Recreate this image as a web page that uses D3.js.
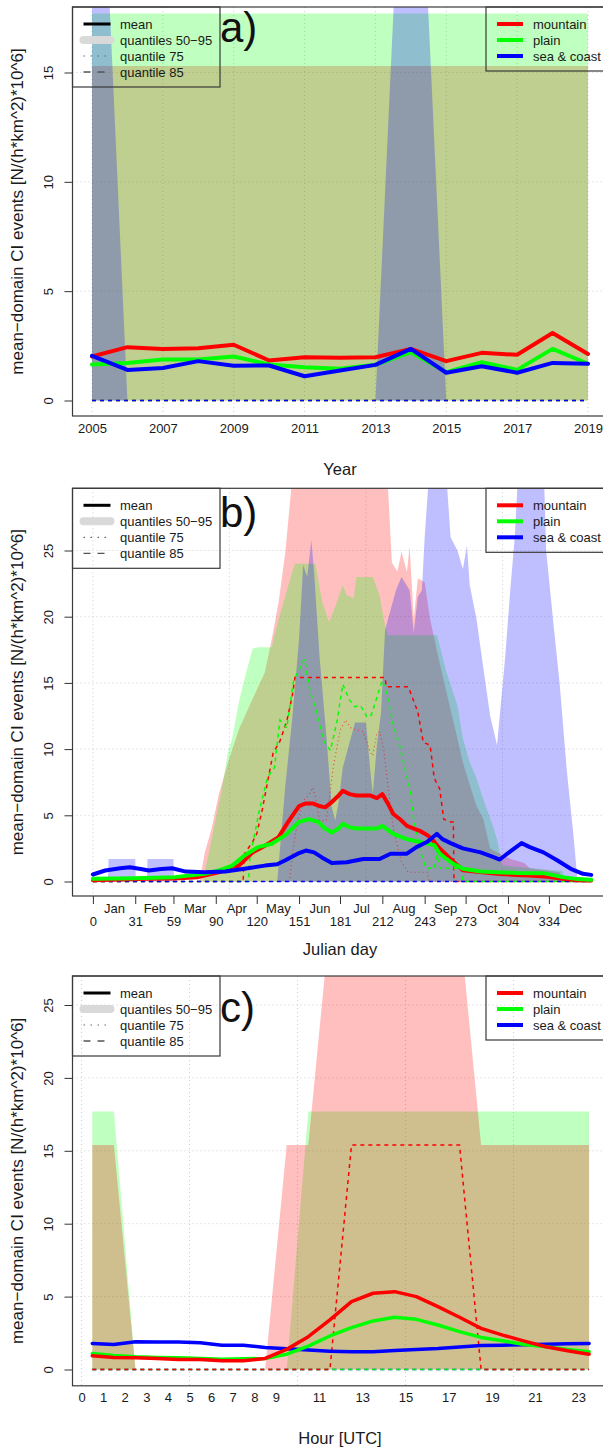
<!DOCTYPE html>
<html>
<head>
<meta charset="utf-8">
<script src="https://cdn.jsdelivr.net/npm/d3@7"></script>
<style>
  body { margin: 0; background: #fff; }
  svg text { font-family: "Liberation Sans", Arial, Helvetica, sans-serif; }
</style>
</head>
<body>
<svg id="fig" width="603" height="1449"></svg>
<script>
// ---------- panel a) : yearly ----------
const years = [2005, 2006, 2007, 2008, 2009, 2010, 2011, 2012, 2013, 2014, 2015, 2016, 2017, 2018, 2019];
const yearMeanMountain = [2.01, 2.44, 2.36, 2.39, 2.55, 1.83, 1.98, 1.95, 1.98, 2.36, 1.80, 2.18, 2.09, 3.09, 2.13];
const yearMeanPlain    = [1.65, 1.71, 1.88, 1.88, 2.01, 1.65, 1.52, 1.45, 1.63, 2.21, 1.30, 1.75, 1.40, 2.36, 1.68];
const yearMeanSea      = [2.04, 1.40, 1.49, 1.80, 1.59, 1.60, 1.11, 1.37, 1.63, 2.36, 1.27, 1.57, 1.27, 1.72, 1.68];
const yearQ95Mountain  = [15.3, 15.3, 15.3, 15.3, 15.3, 15.3, 15.3, 15.3, 15.3, 15.3, 15.3, 15.3, 15.3, 15.3, 15.3];
const yearQ95Plain     = [17.7, 17.7, 17.7, 17.7, 17.7, 17.7, 17.7, 17.7, 17.7, 17.7, 17.7, 17.7, 17.7, 17.7, 17.7];
const yearQ95Sea       = [36, 0, 0, 0, 0, 0, 0, 0, 0, 35, 0, 0, 0, 0, 0];
// quantile 75 / 85 are zero for every region and year
const yearQZero        = [0, 0, 0, 0, 0, 0, 0, 0, 0, 0, 0, 0, 0, 0, 0];

// ---------- panel b) : julian day, [day, value] ----------
const monthStarts = [0, 31, 59, 90, 120, 151, 181, 212, 243, 273, 304, 334];
const monthNames  = ["Jan", "Feb", "Mar", "Apr", "May", "Jun", "Jul", "Aug", "Sep", "Oct", "Nov", "Dec"];

const dayMeanMountain = [[0,0.1],[20,0.15],[40,0.2],[60,0.22],[77,0.33],[92,0.7],[107,1.2],[117,2.2],[126,2.7],
  [136,3.35],[143,4.5],[151,5.7],[156,5.9],[161,5.9],[166,5.7],[170,5.6],[175,6.0],[180,6.5],[183,6.85],[188,6.6],
  [193,6.5],[203,6.5],[208,6.3],[212,6.6],[216,5.9],[220,5.1],[225,4.7],[230,4.2],[235,4.0],[240,3.8],[245,3.5],
  [250,3.0],[254,2.5],[259,2.0],[264,1.5],[271,0.85],[280,0.75],[296,0.58],[310,0.5],[320,0.45],[333,0.35],
  [344,0.2],[355,0.1],[365,0.08]];
const dayMeanPlain = [[0,0.2],[30,0.25],[60,0.33],[82,0.58],[92,0.83],[102,1.2],[111,1.96],[121,2.6],[131,2.85],
  [141,3.5],[151,4.5],[158,4.7],[165,4.5],[170,4.0],[175,3.7],[180,4.0],[183,4.36],[188,4.1],[193,4.0],[203,4.0],
  [208,4.0],[212,4.2],[220,3.6],[230,3.2],[240,2.97],[250,2.75],[254,2.1],[259,1.7],[264,1.33],[271,0.96],
  [284,0.76],[296,0.7],[311,0.65],[330,0.63],[344,0.33],[355,0.18],[365,0.13]];
const dayMeanSea = [[0,0.53],[9,0.83],[20,1.0],[27,1.08],[35,0.95],[41,0.83],[50,0.95],[58,1.0],[68,0.75],
  [82,0.7],[97,0.76],[111,0.96],[126,1.2],[135,1.3],[141,1.6],[150,2.1],[156,2.34],[162,2.2],[168,1.8],[175,1.4],
  [186,1.45],[198,1.7],[210,1.7],[218,2.1],[230,2.1],[237,2.6],[245,3.0],[252,3.6],[256,3.2],[262,2.9],[271,2.5],
  [284,2.2],[292,1.9],[298,1.66],[306,2.3],[314,2.9],[320,2.6],[330,2.2],[340,1.6],[350,0.96],[359,0.58],[365,0.5]];

const dayQ95Mountain = [[0,0],[78,0],[79,0.5],[82,2.2],[87,4.0],[92,6.5],[99,9.0],[107,11.5],[117,13.8],[126,15.8],
  [131,18.3],[136,21.1],[141,24.9],[146,30.5],[150,33],[214,33],[216,30],[219,24.1],[223,23.4],[226,24.9],
  [230,23.4],[232,25.3],[235,19.8],[238,22.9],[243,22.6],[247,19.8],[252,17.4],[259,14.3],[267,10.8],[271,9.0],
  [276,7.3],[281,5.7],[286,4.7],[291,2.5],[296,2.2],[306,1.7],[316,1.4],[320,1.0],[342,0.7],[344,0],[365,0]];
const dayQ95Plain = [[0,0],[80,0],[81,0.3],[85,2.2],[90,4.7],[95,7.3],[99,9.8],[102,10.8],[107,13.6],[111,15.3],
  [117,17.6],[121,17.7],[131,17.7],[133,18.6],[136,19.8],[141,21.6],[146,23.4],[148,24.0],[163,24.0],[168,21.1],
  [173,19.6],[178,20.9],[183,22.4],[186,21.6],[191,21.4],[193,23.0],[205,23.0],[210,21.6],[214,19.3],[216,18.6],
  [252,18.6],[254,17.8],[259,15.8],[267,13.3],[271,10.8],[276,9.0],[281,7.8],[286,6.2],[293,4.2],[296,3.2],
  [298,2.2],[300,1.2],[344,0.8],[346,0],[365,0]];
const dayQ95Sea = [[0,0],[11,0],[11.5,1.7],[31,1.7],[31.5,0],[39.5,0],[40,1.7],[59,1.7],[59.5,0],[135,0],[141,7.3],
  [146,12.3],[151,18.3],[154,23.9],[157,23],[160,25.8],[162,23.4],[166,17],[171,11],[175,5.6],[177.5,4.6],[180,6],
  [183,8.6],[188,10.5],[192,12],[200,12],[203,8.6],[205,6.6],[208,10.3],[211,12.7],[214,19.0],[218,20.5],[222,22],
  [226,23],[229,22.5],[232,22],[235,18.8],[238,21.5],[241,22],[243,26],[247,32],[258,32],[262,26],[267,25],
  [271,23.6],[274,25.4],[276,22.4],[281,19.8],[286,16.1],[291,12.5],[296,10.3],[302,17],[306,22.4],[309,26],
  [312,32],[330,32],[332,25],[337,19.8],[342,14.8],[347,8.5],[352,3.5],[355,0],[365,0]];

const dayQ85Mountain = [[0,0],[110,0],[111,2.1],[117,3.0],[120,3.6],[124,5.4],[132,9.7],[137,10.6],[142,12.1],
  [146,14],[148,15.4],[214,15.4],[215,14.7],[231,14.7],[238,12.8],[242,10.5],[247,10.3],[250,7.8],[254,7.0],
  [257,4.7],[262,4.5],[264,4.5],[264.5,0],[365,0]];
const dayQ75Mountain = [[0,0],[144,0],[146,2],[150,4.6],[154,6.1],[158,6.5],[161,7.1],[164,6],[166,4.6],[171,4.6],
  [176,8.6],[181,11.4],[185,12.2],[189,11.6],[198,11.3],[203,9.8],[205,9.5],[208,11.2],[210,11.3],[213,10],
  [216,7.3],[220,4],[223,2.7],[226,1.5],[231,0.7],[245,0.7],[246,0],[365,0]];
const dayQ85Plain = [[0,0],[114,0],[115,1.8],[122,5.4],[128,7.9],[133,8.6],[137,12.2],[142,11.6],[147,15.2],
  [152,16.2],[155,16.8],[159,14.4],[164,12.7],[169,10.6],[174,9.9],[179,12.2],[183,14.9],[188,13.7],[192,13.2],
  [196,13.3],[201,12.4],[204,12.6],[208,13.9],[212,15.2],[215,14.2],[220,11.9],[225,10.1],[232,7.1],[235,4.7],
  [240,2.2],[244,1.0],[250,1.0],[252,2.0],[254,1.0],[270,1.0],[271,0],[365,0]];
const dayQZero = [[0,0],[365,0]];

// ---------- panel c) : hour of day ----------
const hours = [0.5,1.5,2.5,3.5,4.5,5.5,6.5,7.5,8.5,9.5,10.5,11.5,12.5,13.5,14.5,15.5,16.5,17.5,18.5,19.5,20.5,21.5,22.5,23.5];
const hourTicks = [0,1,2,3,4,5,6,7,8,9,11,13,15,17,19,21,23];
const hourMeanMountain = [0.94,0.83,0.8,0.76,0.69,0.69,0.6,0.6,0.76,1.38,2.25,3.4,4.66,5.23,5.34,5.0,4.31,3.58,2.82,2.36,1.95,1.56,1.28,1.05];
const hourMeanPlain    = [1.1,0.96,0.87,0.83,0.8,0.76,0.71,0.73,0.76,1.05,1.6,2.3,2.87,3.33,3.58,3.44,3.05,2.6,2.2,1.97,1.72,1.56,1.38,1.22];
const hourMeanSea      = [1.79,1.72,1.9,1.88,1.88,1.83,1.67,1.67,1.51,1.42,1.33,1.26,1.22,1.22,1.31,1.38,1.44,1.54,1.65,1.67,1.7,1.74,1.77,1.79];
const hourQ95Mountain  = [15.4,15.4,0,0,0,0,0,0,0,15.4,15.4,30.7,30.7,30.7,30.7,30.7,30.7,30.7,15.4,15.4,15.4,15.4,15.4,15.4];
const hourQ95Plain     = [17.7,17.7,0,0,0,0,0,0,0,0,17.7,17.7,17.7,17.7,17.7,17.7,17.7,17.7,17.7,17.7,17.7,17.7,17.7,17.7];
const hourQ95Sea       = [0,0,0,0,0,0,0,0,0,0,0,0,0,0,0,0,0,0,0,0,0,0,0,0];
const hourQ85Mountain  = [0,0,0,0,0,0,0,0,0,0,0,0,15.4,15.4,15.4,15.4,15.4,15.4,0,0,0,0,0,0];
const hourQZero        = [0,0,0,0,0,0,0,0,0,0,0,0,0,0,0,0,0,0,0,0,0,0,0,0];

const regionNames = ["mountain", "plain", "sea & coast"];
const yTitle = "mean\u2212domain CI events [N/(h*km^2)*10^6]";

// ---------- drawing ----------
const W = 603;
const boxLeft = 72.5;
const colors = {mountain: "#ff0000", plain: "#00ff00", sea: "#0000ff"};
const svg = d3.select("#fig");
const defs = svg.append("defs");

function drawPanel(p) {
  const {x, y, top, bottom} = p;
  const g = svg.append("g");

  defs.append("clipPath").attr("id", "clip-" + p.id)
    .append("rect").attr("x", boxLeft).attr("y", top).attr("width", 560).attr("height", bottom - top);

  // dotted grid
  const grid = g.append("g").attr("stroke", "#cdcdcd").attr("stroke-width", 1).attr("stroke-dasharray", "1,3");
  grid.selectAll(".gy").data(p.yTicks.filter(v => v > 0)).join("line").attr("class", "gy")
    .attr("x1", boxLeft).attr("x2", W).attr("y1", d => y(d)).attr("y2", d => y(d));
  grid.selectAll(".gx").data(p.gridX).join("line").attr("class", "gx")
    .attr("x1", d => x(d)).attr("x2", d => x(d)).attr("y1", top).attr("y2", bottom);

  const plot = g.append("g").attr("clip-path", `url(#clip-${p.id})`);

  // quantile 50-95 bands (q50 is zero)
  const area = d3.area().x(d => x(d[0])).y0(y(0)).y1(d => y(d[1]));
  p.order.forEach(r => {
    plot.append("path").datum(p.q95[r]).attr("d", area)
      .attr("fill", colors[r]).attr("fill-opacity", 0.25);
  });

  // quantile 75 (dotted; all-zero series are hidden under the dashed zero line) and 85 (dashed)
  const line = d3.line().x(d => x(d[0])).y(d => y(d[1]));
  p.order.filter(r => d3.max(p.q75[r], d => d[1]) > 0).forEach(r => {
    plot.append("path").datum(p.q75[r]).attr("d", line).attr("fill", "none")
      .attr("stroke", colors[r]).attr("stroke-width", 1.2).attr("stroke-dasharray", "1,3")
      .attr("stroke-opacity", 0.6);
  });
  p.order.forEach(r => {
    plot.append("path").datum(p.q85[r]).attr("d", line).attr("fill", "none")
      .attr("stroke", colors[r]).attr("stroke-width", 1.5).attr("stroke-dasharray", "4,4");
  });
  p.lineOrder.forEach(r => {
    plot.append("path").datum(p.mean[r]).attr("d", line).attr("fill", "none")
      .attr("stroke", colors[r]).attr("stroke-width", p.meanWidth)
      .attr("stroke-linejoin", "round").attr("stroke-linecap", "round");
  });

  // y axis with rotated labels
  const ya = g.append("g").attr("transform", `translate(${boxLeft},0)`)
    .call(d3.axisLeft(y).tickValues(p.yTicks).tickSize(8).tickFormat(d3.format("d")));
  ya.select(".domain").remove();
  ya.attr("font-size", 13).attr("font-family", null);
  ya.selectAll("line").attr("stroke", "#333");
  ya.selectAll("text").attr("transform", "rotate(-90)").attr("x", 0).attr("y", -19.5)
    .attr("dy", null).attr("text-anchor", "middle").attr("fill", "#1a1a1a");

  // x axis
  p.xAxes.forEach(ax => {
    const xa = g.append("g").attr("transform", `translate(0,${bottom})`)
      .call(d3.axisBottom(x).tickValues(ax.values).tickSize(ax.size).tickPadding(ax.pad)
        .tickFormat((d, i) => ax.labels ? ax.labels[i] : d));
    xa.select(".domain").remove();
    xa.attr("font-size", 13).attr("font-family", null);
    xa.selectAll("line").attr("stroke", "#333");
    xa.selectAll("text").attr("fill", "#1a1a1a");
  });

  // box
  g.append("rect").attr("x", boxLeft).attr("y", top).attr("width", 560).attr("height", bottom - top)
    .attr("fill", "none").attr("stroke", "#3a3a3a").attr("stroke-width", 1.2);

  // titles
  g.append("text").attr("x", 340).attr("y", p.xTitleY).attr("text-anchor", "middle")
    .attr("font-size", 16.5).attr("fill", "#1a1a1a").text(p.xTitle);
  g.append("text").attr("transform", `translate(23,${(top + bottom) / 2}) rotate(-90)`)
    .attr("text-anchor", "middle").attr("font-size", 17).attr("fill", "#1a1a1a").text(yTitle);

  // panel letter
  g.append("text").attr("x", 220).attr("y", p.letterY).attr("font-size", 42).attr("fill", "#111").text(p.letter);

  // legend: statistics
  const lg = g.append("g").attr("transform", `translate(${boxLeft},${top})`);
  lg.append("rect").attr("width", 147.5).attr("height", 80).attr("fill", "none")
    .attr("stroke", "#3a3a3a").attr("stroke-width", 1.2);
  const statItems = [
    {label: "mean", stroke: "#000", w: 3, dash: null, cap: "butt"},
    {label: "quantiles 50\u221295", stroke: "#d9d9d9", w: 8, dash: null, cap: "round"},
    {label: "quantile 75", stroke: "#666", w: 1.2, dash: "1.5,5.5", cap: "butt"},
    {label: "quantile 85", stroke: "#555", w: 1.3, dash: "7,7", cap: "butt"}
  ];
  statItems.forEach((it, i) => {
    const yy = 17 + i * 16;
    lg.append("line").attr("x1", 11).attr("x2", 38).attr("y1", yy).attr("y2", yy)
      .attr("stroke", it.stroke).attr("stroke-width", it.w).attr("stroke-dasharray", it.dash)
      .attr("stroke-linecap", it.cap);
    lg.append("text").attr("x", 47.5).attr("y", yy + 4.6).attr("font-size", 13).attr("fill", "#1a1a1a").text(it.label);
  });

  // legend: regions
  const rg = g.append("g").attr("transform", `translate(486,${top})`);
  rg.append("rect").attr("width", 200).attr("height", 64).attr("fill", "none")
    .attr("stroke", "#3a3a3a").attr("stroke-width", 1.2);
  ["mountain", "plain", "sea"].forEach((r, i) => {
    const yy = 17 + i * 16;
    rg.append("line").attr("x1", 11).attr("x2", 37).attr("y1", yy).attr("y2", yy)
      .attr("stroke", colors[r]).attr("stroke-width", 4);
    rg.append("text").attr("x", 47).attr("y", yy + 4.6).attr("font-size", 13).attr("fill", "#1a1a1a").text(regionNames[i]);
  });
}

// panel a
drawPanel({
  id: "a", letter: "a)", letterY: 41.7, top: 7, bottom: 416,
  x: d3.scaleLinear().domain([2005, 2019]).range([92, 588]),
  y: d3.scaleLinear().domain([0, 15]).range([400.5, 72.5]),
  yTicks: [0, 5, 10, 15], gridX: [2005, 2007, 2009, 2011, 2013, 2015, 2017, 2019],
  order: ["mountain", "plain", "sea"], lineOrder: ["mountain", "plain", "sea"], meanWidth: 4,
  q95: {mountain: d3.zip(years, yearQ95Mountain), plain: d3.zip(years, yearQ95Plain), sea: d3.zip(years, yearQ95Sea)},
  q75: {mountain: d3.zip(years, yearQZero), plain: d3.zip(years, yearQZero), sea: d3.zip(years, yearQZero)},
  q85: {mountain: d3.zip(years, yearQZero), plain: d3.zip(years, yearQZero), sea: d3.zip(years, yearQZero)},
  mean: {mountain: d3.zip(years, yearMeanMountain), plain: d3.zip(years, yearMeanPlain), sea: d3.zip(years, yearMeanSea)},
  xAxes: [{values: [2005, 2007, 2009, 2011, 2013, 2015, 2017, 2019], size: 0, pad: 7.8}],
  xTitle: "Year", xTitleY: 475
});

// panel b
const monthMids = monthStarts.map((m, i) => (m + (i < 11 ? monthStarts[i + 1] : 365)) / 2);
drawPanel({
  id: "b", letter: "b)", letterY: 527, top: 488.3, bottom: 896,
  x: d3.scaleLinear().domain([0, 334]).range([92.9, 548.9]),
  y: d3.scaleLinear().domain([0, 25]).range([881.5, 550.5]),
  yTicks: [0, 5, 10, 15, 20, 25], gridX: [0, 100, 200, 300],
  order: ["mountain", "plain", "sea"], lineOrder: ["mountain", "plain", "sea"], meanWidth: 4,
  q95: {mountain: dayQ95Mountain, plain: dayQ95Plain, sea: dayQ95Sea},
  q75: {mountain: dayQ75Mountain, plain: dayQZero, sea: dayQZero},
  q85: {mountain: dayQ85Mountain, plain: dayQ85Plain, sea: dayQZero},
  mean: {mountain: dayMeanMountain, plain: dayMeanPlain, sea: dayMeanSea},
  xAxes: [{values: monthStarts, size: 8, pad: 12.5},
          {values: monthMids, size: 0, pad: 7.8, labels: monthNames}],
  xTitle: "Julian day", xTitleY: 955
});

// panel c
drawPanel({
  id: "c", letter: "c)", letterY: 1021.5, top: 976, bottom: 1385.8,
  x: d3.scaleLinear().domain([0, 23]).range([81.5, 578.3]),
  y: d3.scaleLinear().domain([0, 25]).range([1369.5, 1005]),
  yTicks: [0, 5, 10, 15, 20, 25], gridX: [0, 5, 10, 15, 20],
  order: ["sea", "plain", "mountain"], lineOrder: ["sea", "plain", "mountain"], meanWidth: 3.5,
  q95: {mountain: d3.zip(hours, hourQ95Mountain), plain: d3.zip(hours, hourQ95Plain), sea: d3.zip(hours, hourQ95Sea)},
  q75: {mountain: d3.zip(hours, hourQZero), plain: d3.zip(hours, hourQZero), sea: d3.zip(hours, hourQZero)},
  q85: {mountain: d3.zip(hours, hourQ85Mountain), plain: d3.zip(hours, hourQZero), sea: d3.zip(hours, hourQZero)},
  mean: {mountain: d3.zip(hours, hourMeanMountain), plain: d3.zip(hours, hourMeanPlain), sea: d3.zip(hours, hourMeanSea)},
  xAxes: [{values: hourTicks, size: 0, pad: 6.5}],
  xTitle: "Hour [UTC]", xTitleY: 1444
});
</script>
</body>
</html>
